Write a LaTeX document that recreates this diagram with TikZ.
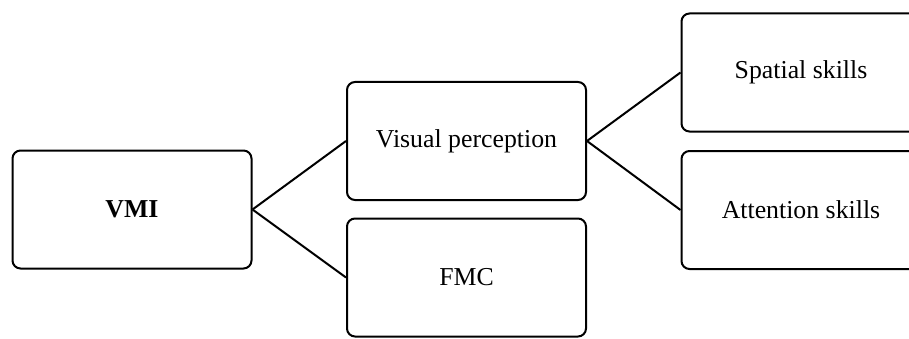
\documentclass[tikz,border=0pt]{standalone}
\usepackage{fontspec}
\setmainfont{Liberation Serif}
\usepackage{tikz}
\usetikzlibrary{arrows.meta}
\usepackage{xcolor}
\tikzstyle{NodeBox}=[rectangle,draw=black,rounded corners=4pt,line width=1pt,
minimum width=119.5pt,minimum height=59pt,inner sep=2pt,font=\fontsize{12.9}{15}\selectfont]
\tikzstyle{EdgeLink}=[black,line width=1pt]

\begin{document}
\begin{tikzpicture}[x=.5pt,y=.5pt]
        \useasboundingbox(0,0)rectangle(909,338);
        \node[NodeBox](vmi)at(132,128.5){\textbf{VMI}};
        \node[NodeBox](vis)at(466.5,197){Visual perception};
        \node[NodeBox](fmc)at(466.5,60.5){FMC};
        \node[NodeBox](spa)at(801,265.5){Spatial skills};
        \node[NodeBox](att)at(801,128){Attention skills};
        \draw[EdgeLink](vmi.east)--(vis.west);
        \draw[EdgeLink](vmi.east)--(fmc.west);
        \draw[EdgeLink](vis.east)--(spa.west);
        \draw[EdgeLink](vis.east)--(att.west);
    \end{tikzpicture}
\end{document}
